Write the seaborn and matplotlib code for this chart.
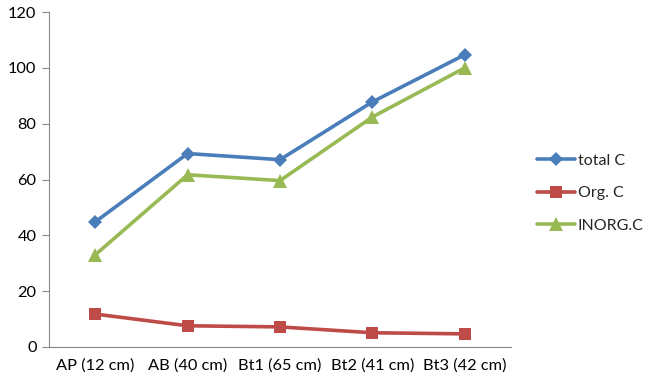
import matplotlib
matplotlib.use("Agg")
import matplotlib.pyplot as plt
import numpy as np
import pandas as pd
import seaborn as sns

horizons = ['AP (12 cm)', 'AB (40 cm)', 'Bt1 (65 cm)', 'Bt2 (41 cm)', 'Bt3 (42 cm)']
total_c = [44.8, 69.3, 67.1, 87.8, 104.7]
org_c = [11.8, 7.6, 7.2, 5.1, 4.7]
inorg_c = [33.0, 61.7, 59.6, 82.4, 100.0]
series_names = ['total C', 'Org. C', 'INORG.C']

df = pd.DataFrame({
    'horizon': horizons * 3,
    'value': total_c + org_c + inorg_c,
    'series': [s for s in series_names for _ in horizons],
})

sns.set_style('white')
plt.rcParams['font.family'] = ['Lato', 'DejaVu Sans']

colors = {'total C': '#4A7EBB', 'Org. C': '#BE4B48', 'INORG.C': '#98B954'}
markers = {'total C': 'D', 'Org. C': 's', 'INORG.C': '^'}
msize = {'total C': 7, 'Org. C': 9, 'INORG.C': 10}
fs = 11.8

fig = plt.figure(figsize=(6.49, 3.9), dpi=100)
ax = fig.add_axes([49 / 649, 43 / 390, 462 / 649, 335 / 390])

for name in series_names:
    sub = df[df['series'] == name]
    sns.lineplot(data=sub, x='horizon', y='value', ax=ax, color=colors[name],
                 marker=markers[name], markersize=msize[name], markeredgewidth=0,
                 linewidth=2.6, sort=False, label=name)

ax.set_xlim(-0.5, 4.5)
ax.set_ylim(0, 120)
ax.set_yticks(np.arange(0, 121, 20))
ax.set_xticks(range(len(horizons)))
ax.set_xticklabels(horizons)
ax.set_xticks(np.arange(-0.5, 4.6, 1), minor=True)
ax.tick_params(axis='x', which='major', length=0, pad=8, labelsize=fs, colors='black')
ax.tick_params(axis='x', which='minor', length=5, width=0.8, color='#868686', direction='out')
ax.tick_params(axis='y', length=5, width=0.8, color='#868686', direction='out', labelsize=fs,
               labelcolor='black', left=True, pad=4)
ax.set_xlabel('')
ax.set_ylabel('')
for side in ['top', 'right']:
    ax.spines[side].set_visible(False)
for side in ['left', 'bottom']:
    ax.spines[side].set_color('#868686')
    ax.spines[side].set_linewidth(0.8)

# legend sits to the right of the plot, vertically centred on the middle entry
ax.legend(loc='center left', bbox_to_anchor=(537 / 649, 197 / 390), bbox_transform=fig.transFigure,
          frameon=False, fontsize=11.5, handlelength=2.4, handletextpad=0.15, labelspacing=1.15,
          borderaxespad=0, borderpad=0)

fig.savefig('out.png', dpi=100)
